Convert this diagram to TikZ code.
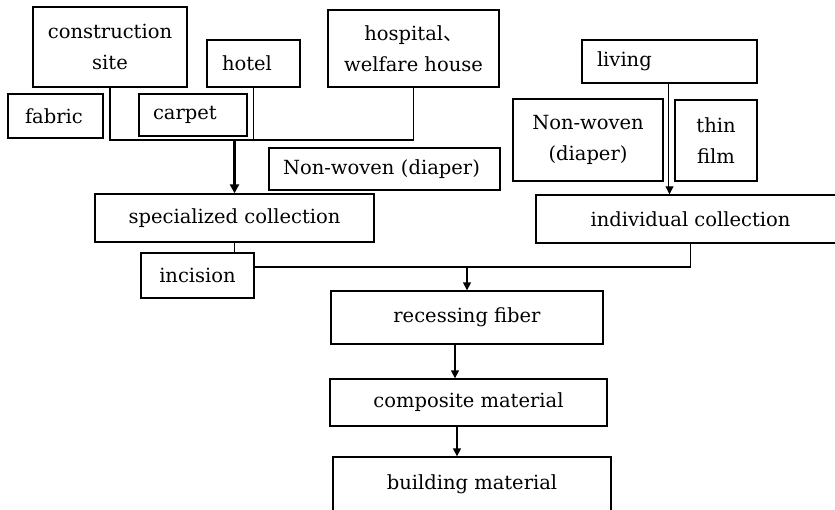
\documentclass[tikz,border=0pt]{standalone}
\usepackage{fontspec}
\setmainfont{DejaVu Serif}
\newfontfamily\cjk{Noto Sans CJK SC}
\usetikzlibrary{arrows.meta}
\begin{document}
\begin{tikzpicture}[x=1pt,y=-1pt,
  box/.style={draw, line width=1.4pt, rectangle, inner sep=0pt, align=center,
    font=\fontsize{19.5}{31}\selectfont},
  lbox/.style={box, align=left},
  conn/.style={line width=1.5pt},
  arr/.style={line width=1.5pt, -{Triangle[width=8pt,length=8pt]}},
  tarr/.style={line width=2.6pt, -{Triangle[width=9pt,length=9pt]}}]
\clip (0,0) rectangle (835,509);
\fill[white] (0,0) rectangle (835,509);
% top-left group
\node[box, minimum width=154pt, minimum height=80pt] (cs) at (110,47) {construction\\site};
\node[lbox, minimum width=93pt, minimum height=47pt, text width=63pt] (hotel) at (253.5,63.5) {hotel};
\node[box, minimum width=171pt, minimum height=77pt] (hosp) at (413.5,48.5) {hospital{\cjk 、}\\welfare house};
\node[lbox, minimum width=95pt, minimum height=44pt, text width=61pt] (fabric) at (55.5,116) {fabric};
\node[lbox, minimum width=108pt, minimum height=42pt, text width=80pt] (carpet) at (193,115) {carpet};
\node[lbox, minimum width=231pt, minimum height=42pt, text width=203pt] (nw1) at (384.5,169) {Non-woven (diaper)};
\node[box, minimum width=279pt, minimum height=48pt] (spec) at (234.5,218) {specialized collection};
\node[box, minimum width=113pt, minimum height=45pt] (inc) at (197.5,275.5) {incision};
% right group
\node[lbox, minimum width=175pt, minimum height=43pt, text width=145pt] (living) at (669.5,61.5) {living};
\node[box, minimum width=150pt, minimum height=82pt] (nw2) at (588,140) {Non-woven\\(diaper)};
\node[box, minimum width=82pt, minimum height=81pt] (thin) at (716,140.5) {thin\\film};
\node[box, minimum width=309pt, minimum height=48pt] (indiv) at (690.5,219) {individual collection};
% bottom chain
\node[box, minimum width=272pt, minimum height=53pt] (rec) at (467,317.5) {recessing fiber};
\node[box, minimum width=277pt, minimum height=47pt] (comp) at (468.5,402.5) {composite material};
\node[box, minimum width=278pt, minimum height=54pt] (build) at (472,484) {building material};
% connectors
\coordinate (j1) at (234.5,140);
\coordinate (j2) at (467,267);
\draw[conn] (cs.south) |- (j1) -| (hosp.south);
\draw[conn] (hotel.south) -- (hotel.south |- j1);
\draw[tarr] (j1) -- (spec.north);
\draw[conn] (spec.south) -- (spec.south |- inc.north);
\draw[conn] (inc.east |- j2) -- (j2 -| indiv.south) -- (indiv.south);
\draw[arr] (j2) -- (rec.north);
\draw[arr] ([xshift=-12pt]rec.south) -- ([xshift=-12pt]rec.south |- comp.north);
\draw[arr] ([xshift=-11.5pt]comp.south) -- ([xshift=-11.5pt]comp.south |- build.north);
\draw[line width=0.9pt, double, double distance=2pt, -{Triangle[width=8pt,length=8pt]}] (living.south) -- (living.south |- indiv.north);
\end{tikzpicture}
\end{document}
